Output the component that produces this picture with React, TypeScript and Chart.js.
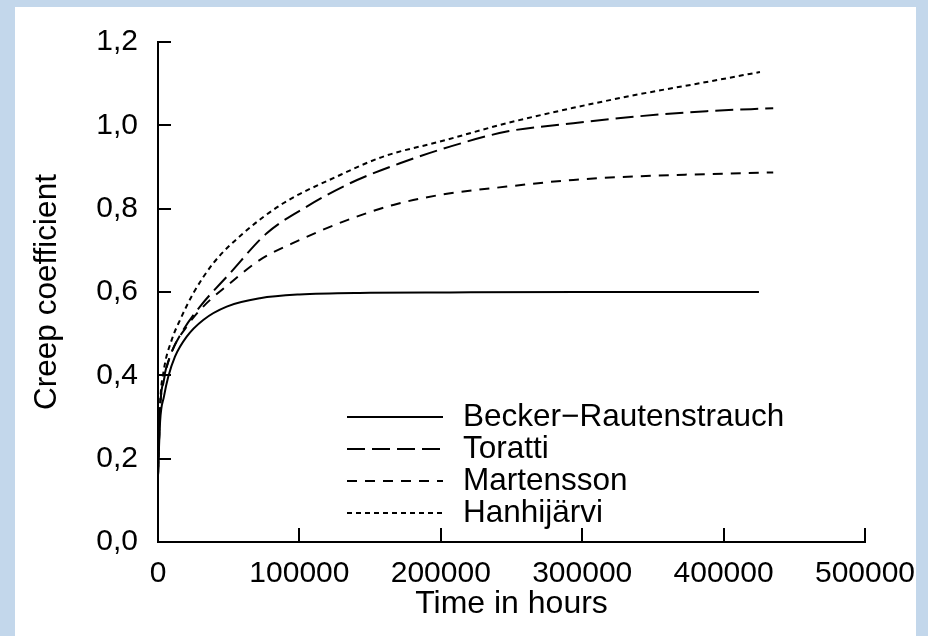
import React, { useEffect, useRef } from "react";
import { Chart, registerables } from "chart.js";

Chart.register(...registerables);

const seriesNames = ["Becker−Rautenstrauch", "Toratti", "Martensson", "Hanhijärvi"];

const beckerTime = [0, 1500, 4200, 7300, 12000, 20300, 32000, 48600, 72100, 100000, 150000, 206500, 300000, 425000];
const beckerValue = [0.16, 0.29, 0.349, 0.397, 0.445, 0.493, 0.533, 0.565, 0.585, 0.594, 0.598, 0.599, 0.6, 0.6];

const torattiTime = [0, 1500, 4000, 9000, 17900, 29700, 50900, 76900, 105200, 135800, 171100, 206500, 246600, 293700, 340900, 388000, 435100];
const torattiValue = [0.16, 0.32, 0.39, 0.45, 0.509, 0.565, 0.645, 0.741, 0.805, 0.861, 0.909, 0.949, 0.985, 1.005, 1.022, 1.034, 1.041];

const martenssonTime = [0, 1500, 4000, 9000, 20300, 32000, 50900, 72100, 100400, 131000, 166400, 199400, 246600, 293700, 340900, 388000, 435100];
const martenssonValue = [0.16, 0.32, 0.385, 0.45, 0.517, 0.565, 0.621, 0.677, 0.725, 0.769, 0.809, 0.833, 0.853, 0.869, 0.878, 0.883, 0.887];

const hanhijarviTime = [0, 1500, 4000, 9700, 15600, 25000, 39100, 60300, 88600, 126400, 159300, 199400, 246600, 293700, 340900, 388000, 425700];
const hanhijarviValue = [0.16, 0.33, 0.41, 0.485, 0.533, 0.597, 0.669, 0.741, 0.813, 0.877, 0.925, 0.961, 1.005, 1.042, 1.075, 1.104, 1.128];

const xTicks = [0, 100000, 200000, 300000, 400000, 500000];
const yTicks = [0, 0.2, 0.4, 0.6, 0.8, 1.0, 1.2];

const xTitle = "Time in hours";
const yTitle = "Creep coefficient";

const toPoints = (t: number[], v: number[]) => t.map((x, i) => ({ x, y: v[i] }));

const FONT = "Arial, 'Liberation Sans', sans-serif";

const tickPlugin = {
  id: "inwardTicks",
  afterDraw(chart: any) {
    const ctx = chart.ctx;
    const xs = chart.scales.x;
    const ys = chart.scales.y;
    const left = chart.chartArea.left;
    const bottom = chart.chartArea.bottom;
    ctx.save();
    ctx.strokeStyle = "#000";
    ctx.lineWidth = 2;
    ctx.beginPath();
    xTicks.forEach((v) => {
      const px = Math.round(xs.getPixelForValue(v));
      ctx.moveTo(px, bottom);
      ctx.lineTo(px, bottom - 14);
    });
    yTicks.forEach((v) => {
      const py = Math.round(ys.getPixelForValue(v));
      ctx.moveTo(left, py);
      ctx.lineTo(left + 13, py);
    });
    ctx.stroke();
    ctx.restore();
  },
};

const legendPlugin = {
  id: "innerLegend",
  afterDraw(chart: any) {
    const ctx = chart.ctx;
    const a = chart.chartArea;
    const x0 = a.left + 189;
    const x1 = a.left + 285;
    const tx = a.left + 305;
    const y0 = a.top + 375;
    const step = 32;
    ctx.save();
    chart.data.datasets.forEach((ds: any, i: number) => {
      const y = y0 + i * step;
      ctx.strokeStyle = "#000";
      ctx.lineWidth = 2;
      ctx.setLineDash(ds.borderDash || []);
      ctx.beginPath();
      ctx.moveTo(x0, y);
      ctx.lineTo(x1, y);
      ctx.stroke();
      ctx.setLineDash([]);
      ctx.fillStyle = "#000";
      ctx.font = `31.5px ${FONT}`;
      ctx.textBaseline = "middle";
      ctx.textAlign = "left";
      ctx.fillText(ds.label, tx, y);
    });
    ctx.restore();
  },
};

export default function App() {
  const ref = useRef<HTMLCanvasElement | null>(null);

  useEffect(() => {
    document.body.style.margin = "0";
    if (!ref.current) return;
    const mk = (label: string, pts: any[], dash: number[]) => ({
      label,
      data: pts,
      borderColor: "#000",
      borderWidth: 2,
      borderDash: dash,
      pointRadius: 0,
      showLine: true,
      fill: false,
      cubicInterpolationMode: "monotone" as const,
    });
    const chart = new Chart(ref.current, {
      type: "scatter",
      data: {
        datasets: [
          mk(seriesNames[0], toPoints(beckerTime, beckerValue), []),
          mk(seriesNames[1], toPoints(torattiTime, torattiValue), [18, 7]),
          mk(seriesNames[2], toPoints(martenssonTime, martenssonValue), [10, 8]),
          mk(seriesNames[3], toPoints(hanhijarviTime, hanhijarviValue), [5, 4]),
        ],
      },
      options: {
        animation: false,
        responsive: false,
        maintainAspectRatio: false,
        layout: { padding: { left: 0, top: 35, right: 51, bottom: 0 } },
        plugins: { legend: { display: false }, tooltip: { enabled: false } },
        scales: {
          x: {
            type: "linear",
            min: 0,
            max: 500000,
            afterBuildTicks: (s: any) => {
              s.ticks = xTicks.map((v) => ({ value: v }));
            },
            afterFit: (s: any) => {
              s.height = 94;
              s.paddingLeft = 0;
              s.paddingRight = 0;
            },
            grid: { display: false, drawTicks: false },
            border: { display: true, color: "#000", width: 2 },
            ticks: {
              color: "#000",
              font: { family: FONT, size: 30 },
              padding: 14,
              maxRotation: 0,
              autoSkip: false,
              callback: (v: any) => String(v),
            },
            title: {
              display: true,
              text: xTitle,
              color: "#000",
              font: { family: FONT, size: 32 },
              padding: { top: 0, bottom: 13 },
            },
          },
          y: {
            type: "linear",
            min: 0,
            max: 1.2,
            afterBuildTicks: (s: any) => {
              s.ticks = yTicks.map((v) => ({ value: v }));
            },
            afterFit: (s: any) => {
              s.width = 143;
              s.paddingTop = 0;
              s.paddingBottom = 0;
            },
            grid: { display: false, drawTicks: false },
            border: { display: true, color: "#000", width: 2 },
            ticks: {
              color: "#000",
              font: { family: FONT, size: 30 },
              padding: 20,
              autoSkip: false,
              callback: (v: any) => Number(v).toFixed(1).replace(".", ","),
            },
            title: {
              display: true,
              text: yTitle,
              color: "#000",
              font: { family: FONT, size: 31.5 },
              padding: { top: 13, bottom: 0 },
            },
          },
        },
      },
      plugins: [tickPlugin, legendPlugin],
    });
    return () => chart.destroy();
  }, []);

  return (
    <div
      style={{
        position: "fixed",
        left: 0,
        top: 0,
        width: 928,
        height: 636,
        background: "#c3d7eb",
      }}
    >
      <div
        style={{
          position: "absolute",
          left: 15,
          top: 7,
          width: 901,
          height: 629,
          background: "#fff",
        }}
      >
        <canvas ref={ref} width={901} height={629} style={{ display: "block" }} />
      </div>
    </div>
  );
}
